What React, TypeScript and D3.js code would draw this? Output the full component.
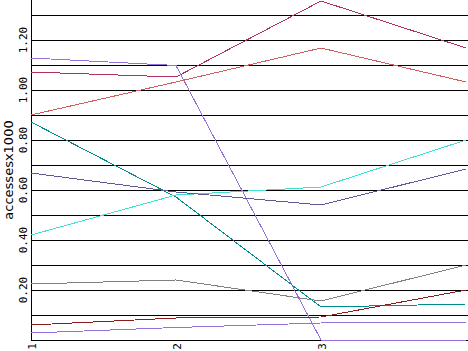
import React from "react";
import * as d3 from "d3";

const W = 468;
const H = 351;

const xCategories = [1, 2, 3, 4];
const xTickLabels = ["1", "2", "3"];
const yTicks = [0.2, 0.4, 0.6, 0.8, 1.0, 1.2];
const gridValues = [0.0, 0.1, 0.2, 0.3, 0.4, 0.5, 0.6, 0.7, 0.8, 0.9, 1.0, 1.1, 1.2, 1.3];

const sCrimson = [1.072, 1.052, 1.356, 1.168];
const sIndianRed = [0.9, 1.032, 1.168, 1.032];
const sViolet = [1.128, 1.098, 0.0, 0.0];
const sTeal = [0.872, 0.572, 0.132, 0.144];
const sTurquoise = [0.42, 0.58, 0.612, 0.8];
const sSlate = [0.668, 0.592, 0.54, 0.684];
const sGrey = [0.224, 0.24, 0.156, 0.3];
const sDarkRed = [0.06, 0.088, 0.092, 0.2];
const sPurple = [0.028, 0.05, 0.068, 0.072];

const series = [
  { values: sCrimson, color: "#b03060" },
  { values: sIndianRed, color: "#cd5c5c" },
  { values: sViolet, color: "#9370db" },
  { values: sTeal, color: "#008b8b" },
  { values: sTurquoise, color: "#40e0d0" },
  { values: sSlate, color: "#5a5a9a" },
  { values: sGrey, color: "#808080" },
  { values: sDarkRed, color: "#8b1a1a" },
  { values: sPurple, color: "#9370db" },
];

export default function App() {
  const x = d3.scaleLinear().domain([1, 4]).range([31, 466]);
  const y = d3.scaleLinear().domain([0, 1.36]).range([340, 0]);
  const line = d3
    .line<number>()
    .x((_, i) => x(xCategories[i]))
    .y((d) => y(d));

  return (
    <div style={{ position: "fixed", left: 0, top: 0 }}>
      <svg width={W} height={H} style={{ display: "block", background: "#fff" }}>
        {gridValues.map((g) => (
          <line
            key={g}
            x1={x(1)}
            x2={W}
            y1={Math.round(y(g)) + 0.5}
            y2={Math.round(y(g)) + 0.5}
            stroke="#000"
            strokeWidth={1}
            shapeRendering="crispEdges"
          />
        ))}
        <line
          x1={x(1) + 0.5}
          x2={x(1) + 0.5}
          y1={0}
          y2={y(0) + 1}
          stroke="#000"
          shapeRendering="crispEdges"
        />
        {series.map((s, i) => (
          <path
            key={i}
            d={line(s.values) || ""}
            fill="none"
            stroke={s.color}
            strokeWidth={1}
            shapeRendering="crispEdges"
          />
        ))}
        {yTicks.map((t) => (
          <text
            key={t}
            transform={`translate(27,${y(t)}) rotate(-90)`}
            textAnchor="middle"
            fontFamily="DejaVu Sans Mono"
            fontSize={11}
            fill="#000"
          >
            {t.toFixed(2)}
          </text>
        ))}
        {xTickLabels.map((t) => (
          <text
            key={t}
            transform={`translate(${x(+t) + 5},343) rotate(-90)`}
            textAnchor="end"
            fontFamily="DejaVu Sans Mono"
            fontSize={11}
            fill="#000"
          >
            {t}
          </text>
        ))}
        <text
          transform={`translate(13,170) rotate(-90)`}
          textAnchor="middle"
          fontFamily="DejaVu Sans"
          fontSize={13}
          fill="#000"
        >
          accessesx1000
        </text>
      </svg>
    </div>
  );
}
